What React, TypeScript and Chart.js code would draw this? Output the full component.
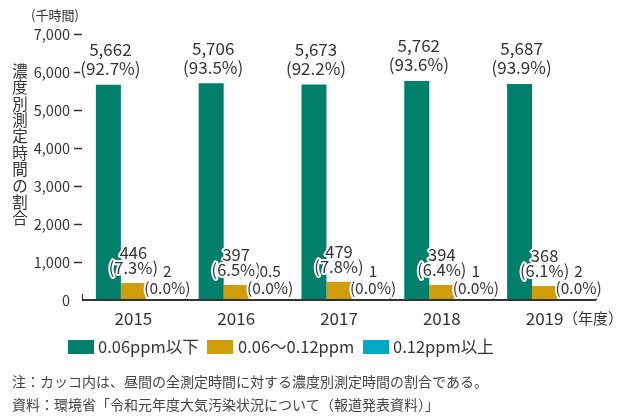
import React, { useEffect, useRef } from "react";
import { Chart, registerables } from "chart.js";

Chart.register(...registerables);

const years = ["2015", "2016", "2017", "2018", "2019"];
const lowValues = [5662, 5706, 5673, 5762, 5687];
const lowPct = ["92.7", "93.5", "92.2", "93.6", "93.9"];
const midValues = [446, 397, 479, 394, 368];
const midPct = ["7.3", "6.5", "7.8", "6.4", "6.1"];
const highValues = [2, 0.5, 1, 1, 2];
const highPct = ["0.0", "0.0", "0.0", "0.0", "0.0"];
const seriesNames = ["0.06ppm以下", "0.06～0.12ppm", "0.12ppm以上"];
const yTicks = [0, 1000, 2000, 3000, 4000, 5000, 6000, 7000];
const unitLabel = "(千時間)";
const yearUnit = "（年度）";
const yTitle = "濃度別測定時間の割合";
const note1 = "注：カッコ内は、昼間の全測定時間に対する濃度別測定時間の割合である。";
const note2 = "資料：環境省「令和元年度大気汚染状況について（報道発表資料）」";

const COLORS = ["#00806a", "#d09e0b", "#00aac6"];
const FONT = "'Noto Sans CJK JP', 'Noto Sans', sans-serif";
const TEXT = "#333333";

const fmt = (v: number) => (Number.isInteger(v) ? v.toLocaleString("en-US") : String(v));

const overlayPlugin = {
  id: "overlay",
  afterDraw(chart: any) {
    const ctx = chart.ctx as CanvasRenderingContext2D;
    const area = chart.chartArea;
    ctx.save();

    // x axis line and upward ticks at category boundaries
    ctx.strokeStyle = TEXT;
    ctx.lineWidth = 2;
    ctx.beginPath();
    ctx.moveTo(area.left, area.bottom);
    ctx.lineTo(area.right, area.bottom);
    ctx.stroke();
    ctx.lineWidth = 1.2;
    const n = years.length;
    const cw = (area.right - area.left) / n;
    for (let i = 0; i <= n; i++) {
      const px = Math.round(area.left + cw * i) + 0.5;
      ctx.beginPath();
      ctx.moveTo(px, area.bottom);
      ctx.lineTo(px, area.bottom - 6);
      ctx.stroke();
    }

    // data labels
    const drawText = (t: string, px: number, py: number, size: number) => {
      ctx.font = `${size}px ${FONT}`;
      ctx.textAlign = "center";
      ctx.textBaseline = "middle";
      ctx.lineJoin = "round";
      ctx.strokeStyle = "#ffffff";
      ctx.lineWidth = 4;
      ctx.strokeText(t, px, py);
      ctx.fillStyle = TEXT;
      ctx.fillText(t, px, py);
    };
    const sets = [
      { vals: lowValues, pct: lowPct, dx: 2, o1: -35, o2: -16, size: 17 },
      { vals: midValues, pct: midPct, dx: 0, o1: -30, o2: -15, size: 16.5 },
      { vals: highValues, pct: highPct, dx: 9, o1: -29, o2: -12, size: 15.5 },
    ];
    sets.forEach((s, di) => {
      const meta = chart.getDatasetMeta(di);
      meta.data.forEach((bar: any, i: number) => {
        const bx = bar.x + s.dx;
        drawText(fmt(s.vals[i]), bx, bar.y + s.o1, s.size);
        drawText(`(${s.pct[i]}%)`, bx, bar.y + s.o2, s.size);
      });
    });

    // unit labels
    ctx.fillStyle = TEXT;
    ctx.textBaseline = "middle";
    ctx.font = `13px ${FONT}`;
    ctx.textAlign = "center";
    ctx.fillText(unitLabel, 55, 15);
    ctx.font = `15px ${FONT}`;
    ctx.textAlign = "left";
    ctx.fillText(yearUnit, 563, 318);

    // vertical y title
    ctx.font = `15.5px ${FONT}`;
    ctx.textAlign = "center";
    for (let i = 0; i < yTitle.length; i++) {
      ctx.fillText(yTitle[i], 20, 71 + i * 16.4);
    }

    // legend
    const legendItems = [
      { x: 68, tx: 98 },
      { x: 207, tx: 238 },
      { x: 363, tx: 393 },
    ];
    ctx.font = `16.5px ${FONT}`;
    legendItems.forEach((it, i) => {
      ctx.fillStyle = COLORS[i];
      ctx.fillRect(it.x, 340, 26, 14);
      ctx.fillStyle = TEXT;
      ctx.textAlign = "left";
      ctx.fillText(seriesNames[i], it.tx, 347);
    });

    // notes
    ctx.font = `14px ${FONT}`;
    ctx.fillStyle = "#444444";
    ctx.fillText(note1, 12, 382);
    ctx.fillText(note2, 12, 405);

    ctx.restore();
  },
};

export default function App() {
  const ref = useRef<HTMLCanvasElement>(null);
  useEffect(() => {
    const canvas = ref.current!;
    const chart = new Chart(canvas, {
      type: "bar",
      data: {
        labels: years,
        datasets: [
          { label: seriesNames[0], data: lowValues, backgroundColor: COLORS[0] },
          { label: seriesNames[1], data: midValues, backgroundColor: COLORS[1] },
          { label: seriesNames[2], data: highValues, backgroundColor: COLORS[2] },
        ],
      },
      options: {
        animation: false,
        responsive: false,
        maintainAspectRatio: false,
        events: [],
        layout: { padding: { top: 34, right: 24, left: 0, bottom: 0 } },
        datasets: { bar: { categoryPercentage: 0.73, barPercentage: 1.0 } },
        plugins: { legend: { display: false }, tooltip: { enabled: false } },
        scales: {
          x: {
            grid: { display: false, drawTicks: false },
            border: { display: false },
            ticks: { color: TEXT, font: { size: 17, family: FONT }, padding: 8 },
            afterFit: (s: any) => {
              s.height = 116;
            },
          },
          y: {
            min: 0,
            max: 7000,
            afterBuildTicks: (s: any) => {
              s.ticks = yTicks.map((v) => ({ value: v }));
            },
            grid: {
              display: true,
              drawOnChartArea: false,
              drawTicks: true,
              tickLength: 8,
              tickWidth: 1.5,
              tickColor: (c: any) => (c.tick && c.tick.value === 0 ? "rgba(0,0,0,0)" : TEXT),
            },
            border: { display: false },
            ticks: {
              color: TEXT,
              font: { size: 14.5, family: FONT },
              padding: 4,
              callback: (v: any) => Number(v).toLocaleString("en-US"),
            },
            afterFit: (s: any) => {
              s.width = 82;
            },
          },
        },
      },
      plugins: [overlayPlugin],
    });
    return () => chart.destroy();
  }, []);
  return (
    <div style={{ position: "fixed", left: 0, top: 0, width: 620, height: 416, background: "#fff" }}>
      <canvas ref={ref} width={620} height={416} style={{ width: 620, height: 416 }} />
    </div>
  );
}
